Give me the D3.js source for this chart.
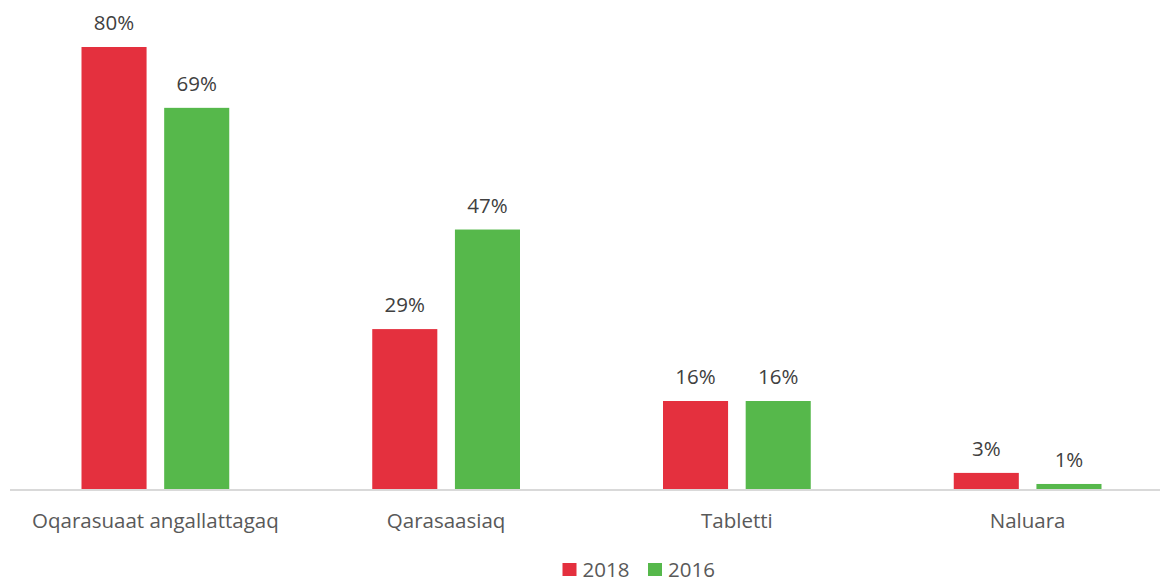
<!DOCTYPE html>
<html>
<head>
<meta charset="utf-8">
<script src="https://cdn.jsdelivr.net/npm/d3@7"></script>
<style>
  body { margin: 0; background: #fff; }
  svg { display: block; font-family: "Open Sans", sans-serif; }
</style>
</head>
<body>
<svg id="chart" width="1160" height="582"></svg>
<script>
// data
const categories = ['Oqarasuaat angallattagaq', 'Qarasaasiaq', 'Tabletti', 'Naluara'];
const seriesNames = ['2018', '2016'];
const values2018 = [80, 29, 16, 3];
const values2016 = [69, 47, 16, 1];
const seriesColors = ['#e4303e', '#56b84b'];

const width = 1160;
const height = 582;
const baseline = 489.5;
const fontSize = '20.5px';

const rows = categories.map((c, i) => ({ cat: c, vals: [values2018[i], values2016[i]] }));

const svg = d3.select('#chart');

// outer scale for categories
const x0 = d3.scaleBand()
  .domain(categories)
  .range([10, 1173])
  .padding(0);

// inner scale for the two years
const groupPad = 71.5;
const x1 = d3.scaleBand()
  .domain(seriesNames)
  .range([groupPad, x0.bandwidth() - groupPad])
  .paddingInner(0.213);

const y = d3.scaleLinear()
  .domain([0, 80])
  .range([baseline, 47]);

const color = d3.scaleOrdinal().domain(seriesNames).range(seriesColors);

// bars
const groups = svg.append('g')
  .selectAll('g')
  .data(rows)
  .enter()
  .append('g')
  .attr('transform', d => `translate(${x0(d.cat)},0)`);

groups.selectAll('rect')
  .data(d => d.vals.map((v, i) => ({ key: seriesNames[i], value: v })))
  .enter()
  .append('rect')
  .attr('x', d => x1(d.key))
  .attr('y', d => y(d.value))
  .attr('width', x1.bandwidth())
  .attr('height', d => baseline - y(d.value))
  .attr('fill', d => color(d.key));

// value labels
groups.selectAll('text')
  .data(d => d.vals.map((v, i) => ({ key: seriesNames[i], value: v })))
  .enter()
  .append('text')
  .attr('x', d => x1(d.key) + x1.bandwidth() / 2)
  .attr('y', d => y(d.value) - 17)
  .attr('text-anchor', 'middle')
  .attr('font-size', fontSize)
  .attr('fill', '#404040')
  .text(d => d.value + '%');

// x axis line
svg.append('line')
  .attr('x1', 10)
  .attr('x2', width)
  .attr('y1', baseline + 0.5)
  .attr('y2', baseline + 0.5)
  .attr('stroke', '#d9d9d9')
  .attr('stroke-width', 2);

// category labels
svg.append('g')
  .selectAll('text')
  .data(categories)
  .enter()
  .append('text')
  .attr('x', d => x0(d) + x0.bandwidth() / 2)
  .attr('y', 528)
  .attr('text-anchor', 'middle')
  .attr('font-size', fontSize)
  .attr('fill', '#595959')
  .text(d => d);

// legend (nudged up a little so the text box stays inside the frame)
const legendX = [562.5, 648];
const legend = svg.append('g')
  .selectAll('g')
  .data(seriesNames)
  .enter()
  .append('g')
  .attr('transform', (d, i) => `translate(${legendX[i]}, 563)`);

legend.append('rect')
  .attr('width', 14)
  .attr('height', 13)
  .attr('fill', d => color(d));

legend.append('text')
  .attr('x', 20)
  .attr('y', 13.5)
  .attr('font-size', fontSize)
  .attr('fill', '#595959')
  .text(d => d);
</script>
</body>
</html>
